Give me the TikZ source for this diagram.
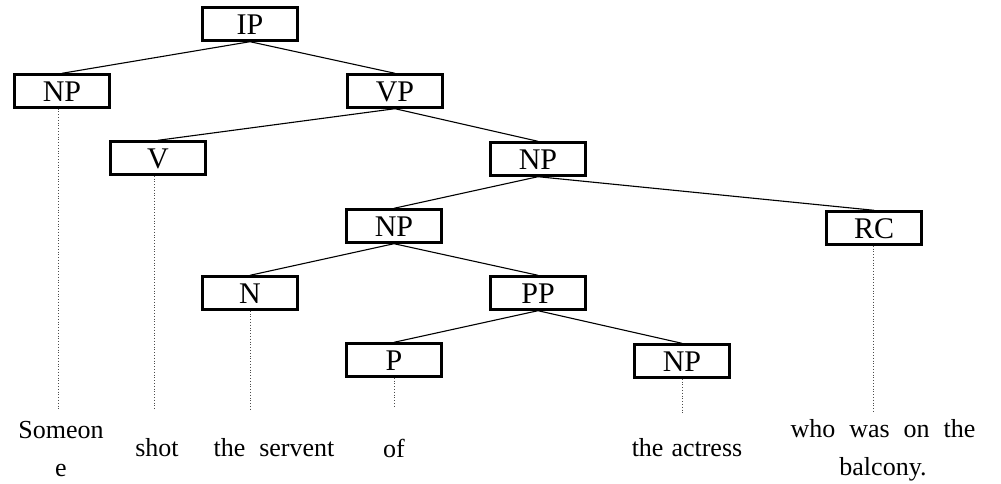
\documentclass[tikz,border=0pt]{standalone}
\usepackage{fontspec}
\setmainfont{Liberation Serif}
\begin{document}
\begin{tikzpicture}[x=1pt,y=-1pt,
  cat/.style={draw=black,line width=2.4pt,rectangle,minimum width=95pt,minimum height=33pt,inner sep=0pt,text height=21pt,text depth=0pt,font=\fontsize{30}{32}\selectfont},
  edge/.style={draw=black,line width=1.1pt},
  dots/.style={draw=black!70,line width=0.8pt,dotted},
  word/.style={inner sep=0pt,font=\fontsize{26}{38}\selectfont,align=center}]
\useasboundingbox (0,0) rectangle (1001,484);
\node[cat] (ip) at (250,24) {IP};
\node[cat] (np1) at (62,91) {NP};
\node[cat] (vp) at (395,91) {VP};
\node[cat] (v) at (158,158) {V};
\node[cat] (np2) at (538,159) {NP};
\node[cat] (np3) at (394,226) {NP};
\node[cat] (rc) at (874,228) {RC};
\node[cat] (n) at (250,293) {N};
\node[cat] (pp) at (538,293) {PP};
\node[cat] (p) at (394,360) {P};
\node[cat] (np4) at (682,361) {NP};
\draw[edge] (ip.south) -- (np1.north);
\draw[edge] (ip.south) -- (vp.north);
\draw[edge] (vp.south) -- (v.north);
\draw[edge] (vp.south) -- (np2.north);
\draw[edge] (np2.south) -- (np3.north);
\draw[edge] (np2.south) -- (rc.north);
\draw[edge] (np3.south) -- (n.north);
\draw[edge] (np3.south) -- (pp.north);
\draw[edge] (pp.south) -- (p.north);
\draw[edge] (pp.south) -- (np4.north);
\coordinate (e1) at (58,410);
\coordinate (e2) at (154,410);
\coordinate (e3) at (250,410);
\coordinate (e4) at (394,407);
\coordinate (e5) at (682,413);
\coordinate (e6) at (873,413);
\draw[dots] (np1.south -| e1) -- (e1);
\draw[dots] (v.south -| e2) -- (e2);
\draw[dots] (n.south) -- (e3);
\draw[dots] (p.south) -- (e4);
\draw[dots] (np4.south) -- (e5);
\draw[dots] (rc.south -| e6) -- (e6);
\node[word] (w1) at (61,449) {Someon\\e};
\node[word] (w2) at (157,448) {shot};
\node[word] (w3) at (274,448) {the\hspace{14pt}servent};
\node[word] (w4) at (394,448) {of};
\node[word] (w5) at (687,448) {the\hspace{8pt}actress};
\node[word] (w6) at (883,450) {who\hspace{14pt}was\hspace{14pt}on\hspace{14pt}the\\balcony.};
\end{tikzpicture}
\end{document}
